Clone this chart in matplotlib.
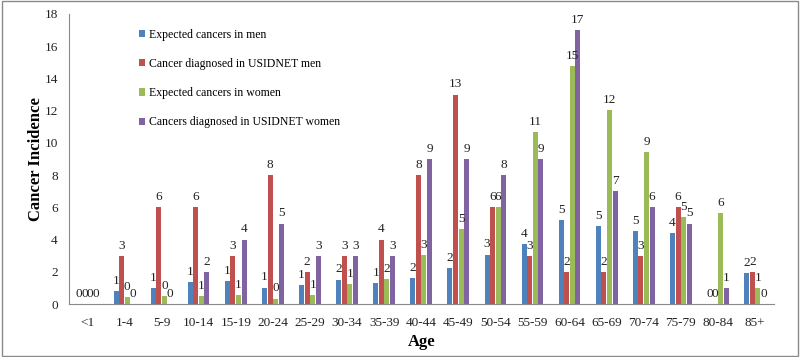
import numpy as np
import matplotlib.pyplot as plt
from matplotlib.patches import Rectangle

# Donnees
ages = ['<1', '1-4', '5-9', '10-14', '15-19', '20-24', '25-29', '30-34', '35-39',
        '40-44', '45-49', '50-54', '55-59', '60-64', '65-69', '70-74', '75-79',
        '80-84', '85+']
expected_men = [0, 0.81, 1.01, 1.39, 1.45, 1.03, 1.16, 1.52, 1.30, 1.61,
                2.26, 3.08, 3.75, 5.24, 4.84, 4.53, 4.43, 0, 1.95]
usidnet_men = [0, 3, 6, 6, 3, 8, 2, 3, 4, 8, 13, 6, 3, 2, 2, 3, 6, 0, 2]
expected_women = [0, 0.45, 0.48, 0.52, 0.56, 0.35, 0.56, 1.26, 1.55, 3.04,
                  4.68, 6.0, 10.68, 14.78, 12.03, 9.44, 5.40, 5.63, 0.98]
usidnet_women = [0, 0, 0, 2, 4, 5, 3, 3, 3, 9, 9, 8, 9, 17, 7, 6, 5, 1, 0]

series = [
    ('Expected cancers in men', expected_men, '#4F81BD'),
    ('Cancer diagnosed in USIDNET men', usidnet_men, '#C0504D'),
    ('Expected cancers in women', expected_women, '#9BBB59'),
    ('Cancers diagnosed in USIDNET women', usidnet_women, '#8064A2'),
]

plt.rcParams['font.family'] = ['Liberation Serif', 'DejaVu Serif']

fig = plt.figure(figsize=(8, 3.57), dpi=100)
ax = fig.add_axes([0.086, 0.148, 0.881, 0.813])

x = np.arange(len(ages))
w = 0.135
step = 0.15
for i, (label, vals, color) in enumerate(series):
    bars = ax.bar(x + (i - 1.5) * step, vals, width=w, color=color, label=label)
    ax.bar_label(bars, fmt='%.0f', padding=3, fontsize=9.5, color='#222222')

ax.set_xlim(-0.5, len(ages) - 0.5)
ax.set_ylim(0, 18)
ax.set_yticks(range(0, 19, 2))
ax.set_xticks(x)
ax.set_xticklabels(ages)
ax.tick_params(axis='both', length=0, labelsize=9.5, colors='#222222')
ax.tick_params(axis='y', pad=8)
ax.tick_params(axis='x', pad=9)

for s in ['top', 'right']:
    ax.spines[s].set_visible(False)
for s in ['left', 'bottom']:
    ax.spines[s].set_color('#8a8a8a')

ax.set_ylabel('Cancer Incidence', fontsize=12, fontweight='bold', labelpad=0)
ax.set_xlabel('Age', fontsize=12, fontweight='bold', labelpad=4)

ax.legend(loc='upper left', bbox_to_anchor=(0.084, 0.985), frameon=False,
          fontsize=8.5, labelspacing=1.45, handlelength=0.55, handleheight=0.55,
          handletextpad=0.35)

fig.patches.append(Rectangle((0.003, 0.004), 0.994, 0.992, transform=fig.transFigure,
                             fill=False, edgecolor='#8a8a8a', linewidth=1))

fig.savefig('out.png', dpi=100)
